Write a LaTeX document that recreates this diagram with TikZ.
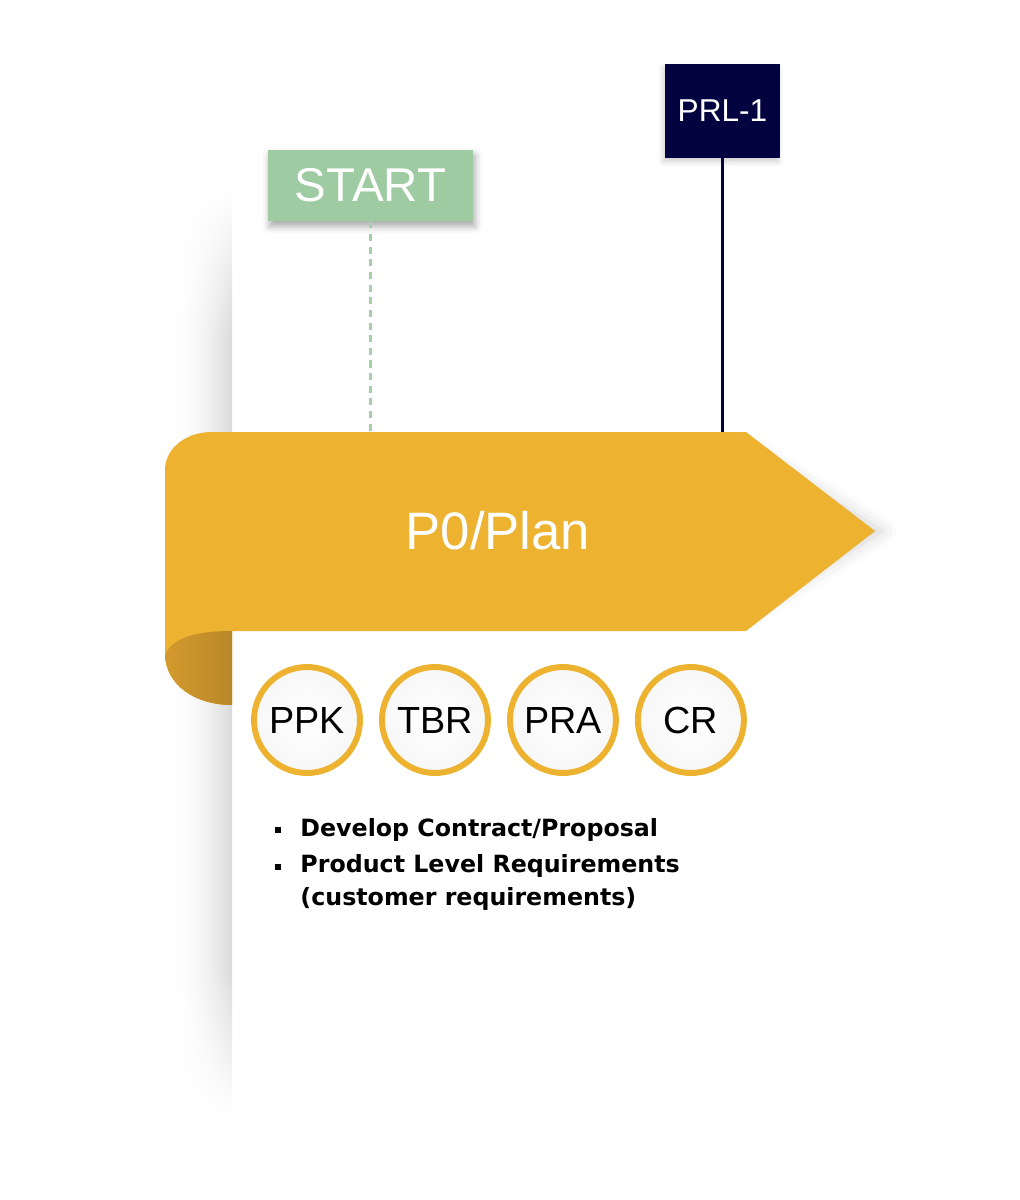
\documentclass[tikz,border=0pt]{standalone}
\usepackage{fontspec}
\setmainfont{Liberation Sans}
\newfontfamily\listfont{DejaVu Sans}
\usetikzlibrary{positioning, shadows.blur}

\definecolor{planyellow}{HTML}{EDB22F}
\definecolor{folddark}{HTML}{D39A2E}
\definecolor{startgreen}{HTML}{9ECBA2}
\definecolor{dashgreen}{HTML}{A3D0A6}
\definecolor{prlnavy}{HTML}{030340}

% grey towards the right edge, fading out at top and bottom
\pgfdeclarefunctionalshading{pageedge}{\pgfpoint{-50bp}{-50bp}}{\pgfpoint{50bp}{50bp}}{}{
  abs 25 exch sub 8 div
  dup 1 gt {pop 1} if
  dup 0 lt {pop 0} if
  exch 25 add 50 div
  dup 1 gt {pop 1} if
  dup 0 lt {pop 0} if
  dup mul
  mul 0.15 mul 1 exch sub
  dup dup
}

\begin{document}
\begin{tikzpicture}[x=0.02cm, y=-0.02cm, on grid, node distance=2.56cm,
    startbox/.style={fill=startgreen, text=white, minimum width=4.1cm, minimum height=1.42cm, inner sep=0pt,
      font=\fontsize{27}{27}\selectfont,
      blur shadow={shadow xshift=1pt, shadow yshift=-3pt, shadow blur radius=4pt, shadow opacity=35}},
    prlbox/.style={fill=prlnavy, text=white, minimum width=2.3cm, minimum height=1.88cm, inner sep=0pt,
      font=\fontsize{18}{18}\selectfont,
      blur shadow={shadow xshift=-1pt, shadow yshift=-2pt, shadow blur radius=3pt, shadow opacity=20}},
    ring/.style={circle, draw=planyellow, line width=3.4pt, inner color=white, outer color=black!3,
      minimum size=2.12cm, inner sep=0pt, font=\fontsize{21.5}{21.5}\selectfont},
    startline/.style={dashgreen, line width=1.3pt, dash pattern=on 4pt off 3.2pt},
    prlline/.style={prlnavy, line width=1.7pt}]
  \useasboundingbox (0,0) rectangle (1020,1200);

  % page edge shadow
  \shade[shading=pageedge] (168,190) rectangle (232,1115);

  % milestones
  \node[startbox] (start) at (370.5,185.5) {START};
  \node[prlbox] (prl) at (722.5,111) {PRL-1};
  \coordinate (s_end) at (370.5,432);
  \coordinate (p_end) at (722.5,432);
  \draw[startline] (start) -- (s_end);
  \draw[prlline] (prl) -- (p_end);

  % phase ribbon, shadow only round the tip
  \path[blur shadow={shadow xshift=4pt, shadow yshift=0pt, shadow blur radius=8pt, shadow opacity=18}]
    (740,446) -- (875,531) -- (740,616) -- cycle;
  \fill[planyellow]
    (212,432) -- (746,432) -- (875,531) -- (746,631) -- (232,631) -- (232,705)
    .. controls (195,705) and (166,685) .. (165,655) -- (165,470)
    .. controls (165,449) and (185,432) .. (212,432) -- cycle;
  \shade[left color=folddark, middle color=folddark, right color=folddark!88!black]
    (232,631) .. controls (195,631) and (172,638) .. (165,655)
    .. controls (166,685) and (195,705) .. (232,705) -- cycle;
  \node[text=white, font=\fontsize{30}{30}\selectfont] (plan) at (498,531) {P0/Plan};

  % reviews
  \node[ring] (ppk) at (307,720) {PPK};
  \node[ring, right=of ppk] (tbr) {TBR};
  \node[ring, right=of tbr] (pra) {PRA};
  \node[ring, right=of pra] (cr) {CR};

  % activities
  \node[anchor=base west, inner sep=0pt, font=\listfont\bfseries\fontsize{13.5}{18.7}\selectfont] (acts) at (275,836)
    {\begin{tabular}[t]{@{}l@{\hspace{11pt}}l@{}}
      \rule[1.8pt]{3.3pt}{3.3pt} & Develop Contract/Proposal \\[2.3pt]
      \rule[1.8pt]{3.3pt}{3.3pt} & Product Level Requirements \\
       & (customer requirements)
    \end{tabular}};
\end{tikzpicture}
\end{document}
